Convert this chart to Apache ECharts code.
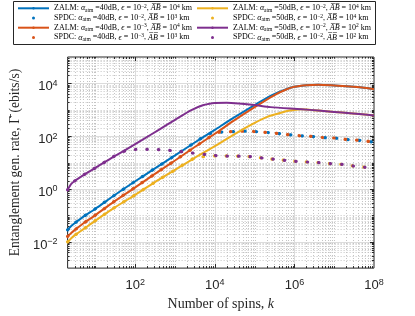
<!DOCTYPE html>
<html><head><meta charset="utf-8">
<script src="https://cdn.jsdelivr.net/npm/echarts@6/dist/echarts.min.js"></script>
<style>html,body{margin:0;padding:0;background:#fff}#c{width:415px;height:316px}</style>
</head><body><div id="c"></div>
<script>
// ---- data (k, rate in ebits/s) ----
const zalmBlue = [[2,0.028],[2.5,0.040],[3,0.050],[5,0.089],[10,0.178],[30,0.575],[100,1.95],[300,5.75],[1e3,18.6],[3e3,55],[1e4,174],[3e4,501],[1e5,1510],[3e5,3800],[6e5,5890],[1e6,7410],[2e6,8510],[4e6,8910],[1e7,8320],[2.5e7,7590],[5e7,6920],[1e8,6030]];
const spdcBlue = [[2,0.028],[2.5,0.040],[3,0.050],[5,0.089],[10,0.178],[30,0.575],[100,1.95],[300,5.75],[1e3,18.6],[3e3,55],[7e3,123],[1.3e4,141],[2.5e4,148],[6e4,155],[1.3e5,145],[2.5e5,135],[6e5,117],[1.2e6,105],[2.5e6,98],[5e6,89],[1e7,85],[2.2e7,74],[5e7,68],[1e8,59]];
const zalmOrange = [[2,0.0158],[2.5,0.0219],[3,0.0275],[5,0.050],[10,0.102],[30,0.339],[100,1.15],[300,3.55],[1e3,12.0],[3e3,37.2],[1e4,123],[3e4,389],[1e5,1260],[3e5,3470],[6e5,5750],[1e6,7410],[2e6,8510],[4e6,8910],[1e7,8320],[2.5e7,7590],[5e7,6920],[1e8,6030]];
const spdcOrange = [[2,0.0158],[2.5,0.0219],[3,0.0275],[5,0.050],[10,0.102],[30,0.339],[100,1.15],[300,3.55],[1e3,12.0],[3e3,37.2],[1e4,123],[1.3e4,141],[2.5e4,148],[6e4,155],[1.3e5,145],[2.5e5,135],[6e5,117],[1.2e6,105],[2.5e6,98],[5e6,89],[1e7,85],[2.2e7,74],[5e7,68],[1e8,59]];
const zalmYellow = [[2,0.0098],[2.5,0.0138],[3,0.0174],[5,0.030],[10,0.063],[30,0.195],[100,0.60],[300,1.74],[1e3,5.25],[3e3,14.5],[1e4,41.7],[3e4,115],[1e5,316],[2e5,525],[4e5,724],[7e5,912],[1.5e6,1050],[4e6,933],[1e7,832],[2.5e7,741],[5e7,676],[1e8,603]];
const spdcYellow = [[2,0.0098],[2.5,0.0138],[3,0.0174],[5,0.030],[10,0.063],[30,0.195],[100,0.60],[300,1.74],[1e3,5.25],[3e3,14.5],[5e3,16.6],[1e4,17.8],[2e4,17.8],[5e4,17.4],[1e5,16.2],[2e5,14.1],[4e5,12.9],[8e5,11.5],[1.6e6,10.7],[4e6,10],[8e6,9.1],[1.6e7,8.5],[3e7,7.4],[6e7,6.6],[1e8,6.2]];
const zalmPurple = [[2,0.93],[2.5,1.58],[3,2.0],[4,2.69],[6,3.98],[10,6.3],[25,14.8],[60,31.6],[150,72],[400,178],[1e3,417],[2.5e3,955],[5e3,1480],[1e4,1820],[2e4,1830],[4e4,1720],[1e5,1510],[2.5e5,1260],[1.5e6,1050],[4e6,933],[1e7,832],[2.5e7,741],[5e7,676],[1e8,603]];
const spdcPurple = [[2,0.93],[2.5,1.58],[3,2.0],[4,2.69],[6,3.98],[10,6.3],[25,14.8],[40,22.9],[60,28.2],[120,31.6],[250,31.6],[500,30.2],[1e3,27.5],[2.5e3,23.4],[6e3,20],[1.5e4,17.8],[5e4,17.4],[1e5,16.2],[2e5,14.1],[4e5,12.9],[8e5,11.5],[1.6e6,10.7],[4e6,10],[8e6,9.1],[1.6e7,8.5],[3e7,7.4],[6e7,6.6],[1e8,6.2]];

const seriesNames = ['ZALM 40dB e-2 AB1e4','SPDC 40dB e-2 AB1e3','ZALM 40dB e-3 AB1e4','SPDC 40dB e-3 AB1e3',
                     'ZALM 50dB e-2 AB1e4','SPDC 50dB e-2 AB1e4','ZALM 50dB e-2 AB1e2','SPDC 50dB e-2 AB1e2'];
const legendLabels = [
  'ZALM: {i|α}{sb|atm} =40dB, {i|ϵ} = 10{sp|−2}, {i|A̅B̅} = 10{sp|4} km',
  'SPDC: {i|α}{sb|atm} =40dB, {i|ϵ} = 10{sp|−2}, {i|A̅B̅} = 10{sp|3} km',
  'ZALM: {i|α}{sb|atm} =40dB, {i|ϵ} = 10{sp|−3}, {i|A̅B̅} = 10{sp|4} km',
  'SPDC: {i|α}{sb|atm} =40dB, {i|ϵ} = 10{sp|−3}, {i|A̅B̅} = 10{sp|3} km',
  'ZALM: {i|α}{sb|atm} =50dB, {i|ϵ} = 10{sp|−2}, {i|A̅B̅} = 10{sp|4} km',
  'SPDC: {i|α}{sb|atm} =50dB, {i|ϵ} = 10{sp|−2}, {i|A̅B̅} = 10{sp|4} km',
  'ZALM: {i|α}{sb|atm} =50dB, {i|ϵ} = 10{sp|−2}, {i|A̅B̅} = 10{sp|2} km',
  'SPDC: {i|α}{sb|atm} =50dB, {i|ϵ} = 10{sp|−2}, {i|A̅B̅} = 10{sp|2} km'
];
const xLabelExps = [2, 4, 6, 8];
const yLabelExps = [-2, 0, 2, 4];
const xRange = [2, 1e8];
const yRange = [1e-3, 1e5];

const colors = ['#0072BD', '#D95319', '#EDB120', '#7E2F8E'];
const dataSets = [zalmBlue, spdcBlue, zalmOrange, spdcOrange, zalmYellow, spdcYellow, zalmPurple, spdcPurple];

// grid-line values (decade multiples)
const gridItems = [];
for (let e = 0; e <= 8; e++) for (let m = 1; m <= 9; m++) {
  const v = m * Math.pow(10, e);
  if (v <= xRange[0] * 1.0001 || v >= xRange[1] * 0.9999) continue;
  const major = (m === 1 && xLabelExps.indexOf(e) >= 0) ? 1 : 0;
  gridItems.push([v, 1, 0, major]);
}
for (let e = -3; e <= 5; e++) for (let m = 1; m <= 9; m++) {
  const v = m * Math.pow(10, e);
  if (v <= yRange[0] * 1.0001 || v >= yRange[1] * 0.9999) continue;
  const major = (m === 1 && yLabelExps.indexOf(e) >= 0) ? 1 : 0;
  gridItems.push([10, v, 1, major]);
}

function expLabel(exps) {
  return function (v) {
    const e = Math.log10(v), r = Math.round(e);
    if (Math.abs(e - r) > 1e-6 || exps.indexOf(r) < 0) return '';
    return '{b|10}{s|' + (r < 0 ? '−' + (-r) : r) + '}';
  };
}
const tickRich = {
  b: { fontFamily: 'Liberation Sans', fontSize: 13, color: '#262626', lineHeight: 10.8, verticalAlign: 'bottom' },
  s: { fontFamily: 'Liberation Sans', fontSize: 9, color: '#262626', lineHeight: 20 }
};
const legRich = {
  i: { fontFamily: 'Liberation Serif', fontStyle: 'italic', fontSize: 8, color: '#000', lineHeight: 9.6 },
  sb: { fontFamily: 'Liberation Serif', fontSize: 5.5, color: '#000', lineHeight: 6.4, verticalAlign: 'bottom' },
  sp: { fontFamily: 'Liberation Serif', fontSize: 5.5, color: '#000', lineHeight: 4.6, verticalAlign: 'top' }
};

const series = [{
  type: 'custom', silent: true, z: 1, data: gridItems, clip: false,
  renderItem: function (params, api) {
    const cs = params.coordSys;
    const dir = api.value(2), major = api.value(3);
    const tl = major ? 4 : 2;
    const gs = major ? { stroke: '#dcdcdc', lineWidth: 1 } : { stroke: '#c4c4c4', lineWidth: 1, lineDash: [1, 2] };
    const ts = { stroke: '#262626', lineWidth: 1 };
    const ch = [];
    if (dir === 0) {
      const x = Math.round(api.coord([api.value(0), 1])[0]) + 0.5;
      const y0 = cs.y, y1 = cs.y + cs.height;
      ch.push({ type: 'line', shape: { x1: x, y1: y0, x2: x, y2: y1 }, style: gs });
      ch.push({ type: 'line', shape: { x1: x, y1: y1, x2: x, y2: y1 - tl }, style: ts });
      ch.push({ type: 'line', shape: { x1: x, y1: y0, x2: x, y2: y0 + tl }, style: ts });
    } else {
      const y = Math.round(api.coord([10, api.value(1)])[1]) + 0.5;
      const x0 = cs.x, x1 = cs.x + cs.width;
      ch.push({ type: 'line', shape: { x1: x0, y1: y, x2: x1, y2: y }, style: gs });
      ch.push({ type: 'line', shape: { x1: x0, y1: y, x2: x0 + tl, y2: y }, style: ts });
      ch.push({ type: 'line', shape: { x1: x1, y1: y, x2: x1 - tl, y2: y }, style: ts });
    }
    return { type: 'group', children: ch };
  }
}];
dataSets.forEach(function (d, i) {
  const c = colors[Math.floor(i / 2)];
  const spdc = i % 2 === 1;
  series.push({
    name: seriesNames[i], type: 'line', data: d, symbol: 'none', showSymbol: false,
    smooth: 0.25, color: c, z: 3,
    lineStyle: spdc ? { width: 3.2, color: c, type: [0.5, 11], cap: 'round' } : { width: 2, color: c }
  });
});

function legendFor(idx, left) {
  return {
    orient: 'vertical', left: left, top: 3.5, padding: 0,
    itemWidth: 31, itemHeight: 3, itemGap: 0.1, itemTextGap: 3, selectedMode: false,
    data: idx.map(function (i) {
      const o = { name: seriesNames[i] };
      if (i % 2 === 1) { o.icon = 'circle'; o.itemStyle = { borderWidth: 0 }; }
      return o;
    }),
    formatter: function (n) { return legendLabels[seriesNames.indexOf(n)]; },
    textStyle: { fontFamily: 'Liberation Serif', fontSize: 8, color: '#000', lineHeight: 9.6, rich: legRich }
  };
}

const chart = echarts.init(document.getElementById('c'), null, { renderer: 'canvas' });
chart.setOption({
  animation: false,
  backgroundColor: '#fff',
  grid: { left: 55, right: 41, top: 57, bottom: 45, show: true, borderColor: '#262626', borderWidth: 1, backgroundColor: '#fff', containLabel: false },
  graphic: [{ type: 'rect', z: -10, shape: { x: 13.5, y: 1.5, width: 362, height: 43 }, style: { fill: '#fff', stroke: '#262626', lineWidth: 1 } }],
  legend: [legendFor([0, 1, 2, 3], 17), legendFor([4, 5, 6, 7], 196)],
  xAxis: {
    type: 'log', logBase: 10, min: xRange[0], max: xRange[1],
    axisLine: { show: false }, axisTick: { show: false }, splitLine: { show: false }, minorTick: { show: false },
    axisLabel: { margin: 4, formatter: expLabel(xLabelExps), rich: tickRich },
    name: 'Number of spins, {i|k}', nameLocation: 'middle', nameGap: 27,
    nameTextStyle: { fontFamily: 'Liberation Serif', fontSize: 14, color: '#262626',
      rich: { i: { fontFamily: 'Liberation Serif', fontStyle: 'italic', fontSize: 14, color: '#262626' } } }
  },
  yAxis: {
    type: 'log', logBase: 10, min: yRange[0], max: yRange[1],
    axisLine: { show: false }, axisTick: { show: false }, splitLine: { show: false }, minorTick: { show: false },
    axisLabel: { margin: 10, formatter: expLabel(yLabelExps), rich: tickRich },
    name: 'Entanglement gen. rate, Γ\u0304 (ebits/s)', nameLocation: 'middle', nameGap: 35,
    nameTextStyle: { fontFamily: 'Liberation Serif', fontSize: 13.6, color: '#262626' }
  },
  series: series
});
</script></body></html>
